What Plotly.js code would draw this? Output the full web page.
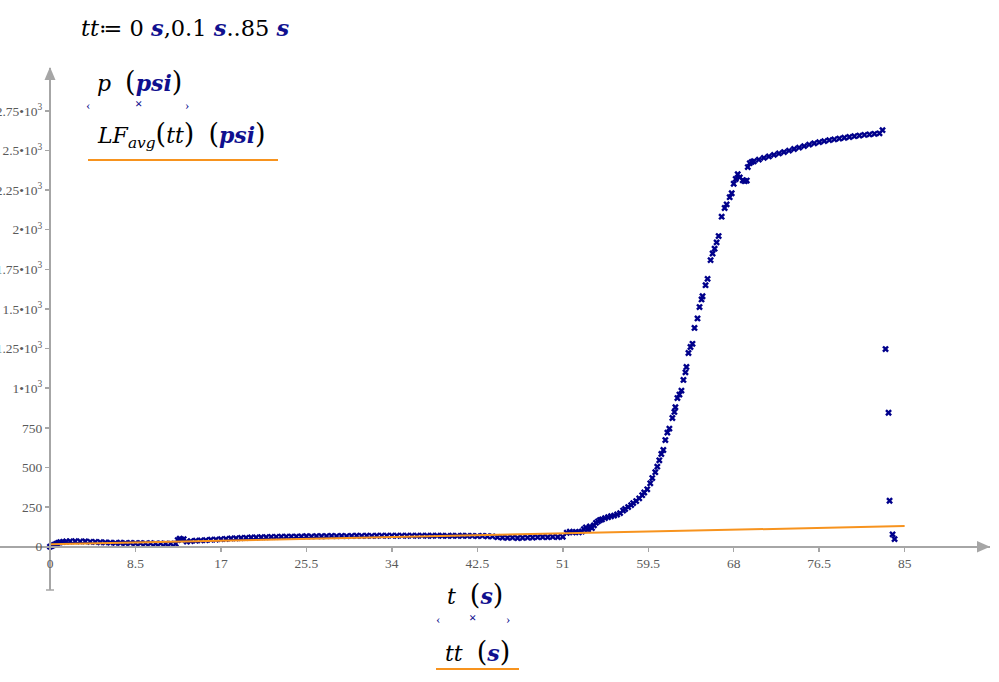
<!DOCTYPE html>
<html><head><meta charset="utf-8">
<script src="https://cdn.plot.ly/plotly-3.0.1.min.js"></script>
<style>html,body{margin:0;padding:0;background:#fff}</style>
</head><body><div id="chart" style="width:999px;height:682px"></div>
<script>
// ---- data ----
const tBase = [0,0.2,0.4,0.6,0.8,1,1.3,1.6,2,2.5,3,3.5,4,4.5,5,5.5,6,6.5,7,7.5,8,8.5,9,9.5,10,10.5,11,11.5,12,12.5,
  12.7,12.9,13.1,13.3,
  13.6,14,14.5,15,15.5,16,16.5,17,17.5,18,18.5,19,19.5,20,20.5,21,21.5,22,22.5,23,23.5,24,24.5,25,
  25.5,26,26.5,27,27.5,28,28.5,29,29.5,30,30.5,31,31.5,32,32.5,33,33.5,34,34.5,35,35.5,36,36.5,37,37.5,38,38.5,39,39.5,40,40.5,41,41.5,42,42.5,43,43.5,44,
  44.5,45,45.5,46,46.5,47,47.5,48,48.5,49,49.5,50,50.5,51];
const pBase = [0,6,12,18,24,28,31,33,34,35,33,34,31,30,28,27,26,24,25,23,24,22,23,21,22,20,21,19,20,19,
  42,50,44,48,
  32,35,38,40,41,44,45,48,49,52,53,55,56,58,58,60,60,62,62,63,63,64,64,65,
  66,65,67,66,67,68,67,68,67,68,69,68,69,68,69,70,69,70,69,70,69,70,69,70,69,69,70,69,68,69,68,69,68,68,67,68,66,65,
  60,58,56,57,55,56,57,58,60,61,60,62,61,62];

const tRise = [51.4,51.7,52,52.3,52.6,52.9,53.1,53.3,53.5,53.7,53.9,54.1,54.3,54.5,54.7,54.9,55.2,55.5,55.8,56.1,56.4,56.7,57,57.2,57.5,57.8,58,58.3,58.6,58.9,59.1,
  59.4,59.7,59.9,60.2,60.4,60.6,60.8,61,61.2,61.4,61.6,61.9,62.1,62.2,62.4,62.6,62.8,63,63.2,63.3,63.5,63.7,63.9,64.1,64.4,64.6,64.8,64.9,65.2,65.4,65.7,65.9,66.1,66.3,66.5,66.8,67.1,67.3,67.6,67.8,68,68.2,68.4,68.6,68.9,69.1,69.3,69.4,69.6,69.8];
const pRise = [88,95,90,94,91,96,110,122,106,128,118,135,150,160,168,172,180,186,192,196,203,212,228,238,250,262,275,288,305,325,342,
  362,400,433,470,505,545,585,610,673,720,745,812,850,880,938,960,985,1052,1100,1134,1222,1260,1280,1380,1440,1512,1560,1580,1650,1690,1808,1850,1880,1920,1960,2082,2137,2160,2205,2230,2290,2320,2350,2330,2312,2306,2310,2395,2420,2428];

const tPlateau = [70,70.5,71,71.5,72,72.5,73,73.5,74,74.5,75,75.5,76,76.5,77,77.5,78,78.5,79,79.5,80,80.5,81,81.5,82,82.5,82.8];
const pPlateau = [2432,2442,2453,2462,2472,2481,2490,2499,2509,2518,2527,2537,2545,2552,2559,2565,2570,2575,2580,2585,2590,2594,2598,2601,2605,2608,2628];

const tDrop = [83.1,83.4,83.5,83.8,84.0];
const pDrop = [1247,845,290,78,48];

const tLF = [0,17,34,51,68,85];
const pLF = [15,38,61,84,107,130];

const xTicks = [0,8.5,17,25.5,34,42.5,51,59.5,68,76.5,85];
const xTickText = ['0','8.5','17','25.5','34','42.5','51','59.5','68','76.5','85'];
const yTicks = [0,250,500,750,1000,1250,1500,1750,2000,2250,2500,2750];
const yTickText = ['0','250','500','750','1\u202210<sup>3</sup>','1.25\u202210<sup>3</sup>','1.5\u202210<sup>3</sup>','1.75\u202210<sup>3</sup>','2\u202210<sup>3</sup>','2.25\u202210<sup>3</sup>','2.5\u202210<sup>3</sup>','2.75\u202210<sup>3</sup>'];

// ---- layout helpers (pixel -> paper) ----
const W = 999, H = 682;
const fx = px => px / W;
const fy = py => 1 - py / H;
const AX = '#a6a6a6';
const BLUE = '#10108f';
const SERIF = 'Liberation Serif, DejaVu Serif, serif';
const MATH = 'DejaVu Serif, Liberation Serif, serif';
const tickFont = {family: SERIF, size: 13.5, color: '#5a5a5a'};

const tAll = [].concat(tBase, tRise, tPlateau, tDrop);
const pAll = [].concat(pBase, pRise, pPlateau, pDrop);

const traces = [
  {x: tAll, y: pAll, type: 'scatter', mode: 'markers',
   marker: {symbol: 'x', size: 6, color: '#00008b', line: {width: 0}}, hoverinfo: 'skip'},
  {x: tLF, y: pLF, type: 'scatter', mode: 'lines',
   line: {color: '#f7931e', width: 2}, hoverinfo: 'skip'}
];

const t = (txt, x, y, size, anchor) => ({text: txt, xref: 'paper', yref: 'paper', x: fx(x), y: fy(y),
  xanchor: anchor || 'left', yanchor: 'middle', showarrow: false,
  font: {family: MATH, size: size, color: '#000'}});
const b = s => '<span style="color:' + BLUE + '"><b><i>' + s + '</i></b></span>';
const L = '<span style="font-size:27px">(</span>';
const R = '<span style="font-size:27px">)</span>';
const sm = (txt, x, y) => ({text: '<span style="color:' + BLUE + '">' + txt + '</span>', xref: 'paper', yref: 'paper',
  x: fx(x), y: fy(y), xanchor: 'center', yanchor: 'middle', showarrow: false, font: {family: SERIF, size: 13, color: BLUE}});

const layout = {
  width: W, height: H, margin: {l: 0, r: 0, t: 0, b: 0},
  paper_bgcolor: '#fff', plot_bgcolor: '#fff', showlegend: false,
  xaxis: {domain: [0, 990 / W], range: [-4.973, 93.49], anchor: 'free', position: fy(546.7),
    showline: true, linecolor: AX, linewidth: 2, zeroline: false, showgrid: false,
    ticks: 'outside', ticklen: 4, tickwidth: 1.5, tickcolor: AX,
    tickvals: xTicks, ticktext: xTickText, tickangle: 0, tickfont: tickFont, fixedrange: true},
  yaxis: {domain: [fy(590), fy(68)], range: [-273.2, 3020.2], anchor: 'free', position: fx(50),
    showline: true, linecolor: AX, linewidth: 2, zeroline: false, showgrid: false,
    ticks: 'outside', ticklen: 4, tickwidth: 1.5, tickcolor: AX,
    tickvals: yTicks, ticktext: yTickText, tickfont: tickFont, fixedrange: true},
  shapes: [
    {type: 'path', xref: 'paper', yref: 'paper', fillcolor: AX, line: {width: 0},
     path: 'M ' + fx(990) + ' ' + fy(546.7) + ' L ' + fx(977) + ' ' + fy(541) + ' L ' + fx(977) + ' ' + fy(552.4) + ' Z'},
    {type: 'path', xref: 'paper', yref: 'paper', fillcolor: AX, line: {width: 0},
     path: 'M ' + fx(50) + ' ' + fy(67) + ' L ' + fx(44.5) + ' ' + fy(80) + ' L ' + fx(55.5) + ' ' + fy(80) + ' Z'},
    {type: 'line', xref: 'paper', yref: 'paper', x0: fx(46), x1: fx(54), y0: fy(590), y1: fy(590), line: {color: AX, width: 1.5}},
    {type: 'line', xref: 'paper', yref: 'paper', x0: fx(88), x1: fx(278), y0: fy(160), y1: fy(160), line: {color: '#f7931e', width: 2}},
    {type: 'line', xref: 'paper', yref: 'paper', x0: fx(436), x1: fx(519), y0: fy(669), y1: fy(669), line: {color: '#f7931e', width: 2}}
  ],
  annotations: [
    t('<i>tt</i>\u2254 0 ' + b('s') + ',0.1 ' + b('s') + '..85 ' + b('s'), 79, 28, 22.5),
    t('<i>p</i>  ' + L + b('psi') + R, 95, 81, 22),
    sm('\u2039', 88, 105), sm('<b>\u00d7</b>', 138, 104), sm('\u203a', 187, 105),
    t('<i>LF<sub>avg</sub></i>' + L + '<i>tt</i>' + R + '  ' + L + b('psi') + R, 95, 135, 22),
    t('<i>t</i>  ' + L + b('s') + R, 445, 594, 22),
    sm('\u2039', 438, 618), sm('<b>\u00d7</b>', 472, 617), sm('\u203a', 508, 618),
    t('<i>tt</i>  ' + L + b('s') + R, 443, 651, 22)
  ]
};

Plotly.newPlot('chart', traces, layout, {displayModeBar: false, staticPlot: true});
</script></body></html>
